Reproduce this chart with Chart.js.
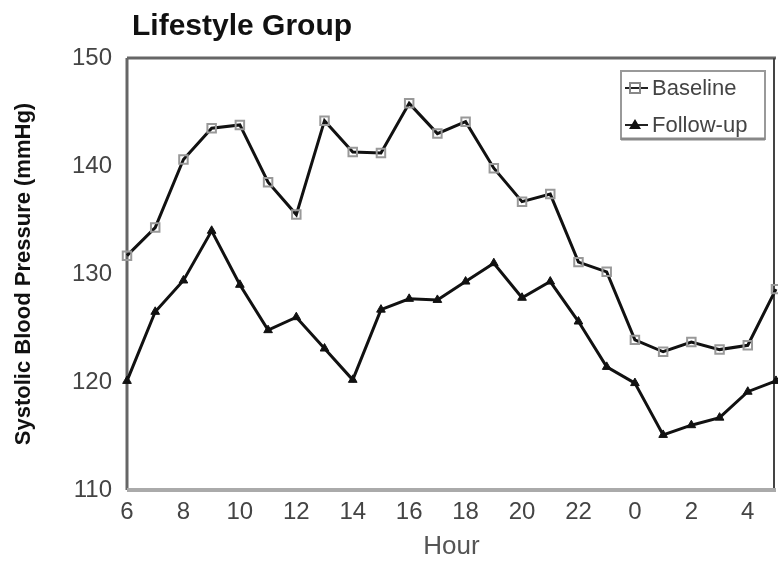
<!DOCTYPE html>
<html>
<head>
<meta charset="utf-8">
<title>Lifestyle Group</title>
<script src="https://cdn.jsdelivr.net/npm/chart.js@4/dist/chart.umd.min.js"></script>
<style>
  html, body { margin: 0; padding: 0; background: #fff; overflow: hidden; }
  #wrap { width: 778px; height: 562px; position: relative; }
  canvas { display: block; }
</style>
</head>
<body>
<div id="wrap"><canvas id="bpChart"></canvas></div>
<script>
// hours of the day, starting at 6 am
const hours = ["6", "7", "8", "9", "10", "11", "12", "13", "14", "15", "16", "17",
  "18", "19", "20", "21", "22", "23", "0", "1", "2", "3", "4", "5"];
const baseline = [131.7, 134.3, 140.6, 143.5, 143.8, 138.5, 135.5, 144.2, 141.3, 141.2, 145.8, 143.0,
  144.1, 139.8, 136.7, 137.4, 131.1, 130.2, 123.9, 122.8, 123.7, 123.0, 123.4, 128.6];
const followUp = [120.1, 126.5, 129.4, 134.0, 129.0, 124.8, 126.0, 123.1, 120.2, 126.7, 127.7, 127.6,
  129.3, 131.0, 127.8, 129.3, 125.6, 121.4, 119.9, 115.1, 116.0, 116.7, 119.1, 120.1];
const yTicks = [110, 120, 130, 140, 150];

const FONT = "'Liberation Sans', Arial, sans-serif";

const framePlugin = {
  id: "frame",
  beforeDatasetsDraw(chart) {
    const { ctx, chartArea: a } = chart;
    ctx.save();
    ctx.lineCap = "butt";
    ctx.strokeStyle = "#666";
    ctx.lineWidth = 3;
    ctx.beginPath(); ctx.moveTo(a.left, a.top); ctx.lineTo(a.right, a.top); ctx.stroke();
    ctx.beginPath(); ctx.moveTo(a.left, a.top); ctx.lineTo(a.left, a.bottom); ctx.stroke();
    ctx.strokeStyle = "#444";
    ctx.lineWidth = 2;
    ctx.beginPath(); ctx.moveTo(a.right - 2, a.top); ctx.lineTo(a.right - 2, a.bottom); ctx.stroke();
    ctx.strokeStyle = "#aaa";
    ctx.lineWidth = 4;
    ctx.beginPath(); ctx.moveTo(a.left, a.bottom); ctx.lineTo(a.right, a.bottom); ctx.stroke();
    ctx.restore();
  },
};

const titlePlugin = {
  id: "leftTitle",
  afterDraw(chart) {
    const { ctx, chartArea: a } = chart;
    ctx.save();
    ctx.fillStyle = "#111";
    ctx.font = "bold 30px " + FONT;
    ctx.textBaseline = "middle";
    ctx.fillText("Lifestyle Group", a.left + 5, 27);
    ctx.restore();
  },
};

const legendBoxPlugin = {
  id: "legendBox",
  afterDraw(chart) {
    const { ctx, chartArea: a } = chart;
    const x0 = a.right - 155, y0 = a.top + 13, w = 144, h = 68;
    ctx.save();
    ctx.fillStyle = "#fff";
    ctx.fillRect(x0, y0, w, h);
    ctx.strokeStyle = "#999";
    ctx.lineWidth = 2;
    ctx.strokeRect(x0, y0, w, h);
    ctx.strokeStyle = "#888";
    ctx.lineWidth = 3;
    ctx.beginPath(); ctx.moveTo(x0, y0 + h); ctx.lineTo(x0 + w, y0 + h); ctx.stroke();

    chart.data.datasets.forEach((ds, i) => {
      const cy = y0 + 17 + i * 37;
      ctx.strokeStyle = "#222";
      ctx.lineWidth = 2;
      ctx.beginPath(); ctx.moveTo(x0 + 4, cy); ctx.lineTo(x0 + 27, cy); ctx.stroke();
      const mx = x0 + 14;
      if (ds.pointStyle === "rect") {
        ctx.strokeStyle = "#888";
        ctx.lineWidth = 2;
        ctx.strokeRect(mx - 5, cy - 5, 10, 10);
      } else {
        ctx.fillStyle = "#111";
        ctx.beginPath();
        ctx.moveTo(mx, cy - 6); ctx.lineTo(mx + 6, cy + 4); ctx.lineTo(mx - 6, cy + 4);
        ctx.closePath(); ctx.fill();
      }
      ctx.fillStyle = "#444";
      ctx.font = "22px " + FONT;
      ctx.textBaseline = "middle";
      ctx.fillText(ds.label, x0 + 31, cy + 1);
    });
    ctx.restore();
  },
};

new Chart(document.getElementById("bpChart"), {
  type: "line",
  data: {
    labels: hours,
    datasets: [
      {
        label: "Baseline",
        data: baseline,
        borderColor: "#111",
        borderWidth: 3,
        tension: 0,
        pointStyle: "rect",
        pointRadius: 6,
        pointBorderColor: "#999",
        pointBorderWidth: 2,
        pointBackgroundColor: "rgba(0,0,0,0)",
        clip: false,
      },
      {
        label: "Follow-up",
        data: followUp,
        borderColor: "#111",
        borderWidth: 3,
        tension: 0,
        pointStyle: "triangle",
        pointRadius: 5,
        pointBorderColor: "#111",
        pointBorderWidth: 1,
        pointBackgroundColor: "#111",
        clip: false,
      },
    ],
  },
  options: {
    responsive: true,
    maintainAspectRatio: false,
    animation: false,
    layout: { autoPadding: false, padding: { top: 58, right: 2, left: 0, bottom: 0 } },
    plugins: {
      legend: { display: false },
      tooltip: { enabled: false },
    },
    scales: {
      x: {
        offset: false,
        grid: { display: false, drawTicks: false },
        border: { display: false },
        ticks: {
          autoSkip: false,
          maxRotation: 0,
          padding: 8,
          color: "#444",
          font: { family: FONT, size: 24 },
          callback: function (value, index) {
            return index % 2 === 0 ? hours[index] : "";
          },
        },
        title: {
          display: true,
          text: "Hour",
          color: "#555",
          font: { family: FONT, size: 26 },
          padding: { top: 0, bottom: 0 },
        },
        afterFit(scale) {
          scale.height = 72;
          scale.paddingLeft = 0;
          scale.paddingRight = 0;
        },
      },
      y: {
        min: yTicks[0],
        max: yTicks[yTicks.length - 1],
        afterBuildTicks(scale) { scale.ticks = yTicks.map((v) => ({ value: v })); },
        grid: { display: false, drawTicks: false },
        border: { display: false },
        ticks: {
          padding: 15,
          color: "#444",
          font: { family: FONT, size: 24 },
        },
        title: {
          display: true,
          text: "Systolic Blood Pressure (mmHg)",
          color: "#111",
          font: { family: FONT, size: 22, weight: "bold" },
          padding: { top: 11, bottom: 0 },
        },
        afterFit(scale) { scale.width = 127; },
      },
    },
  },
  plugins: [framePlugin, titlePlugin, legendBoxPlugin],
});
</script>
</body>
</html>
